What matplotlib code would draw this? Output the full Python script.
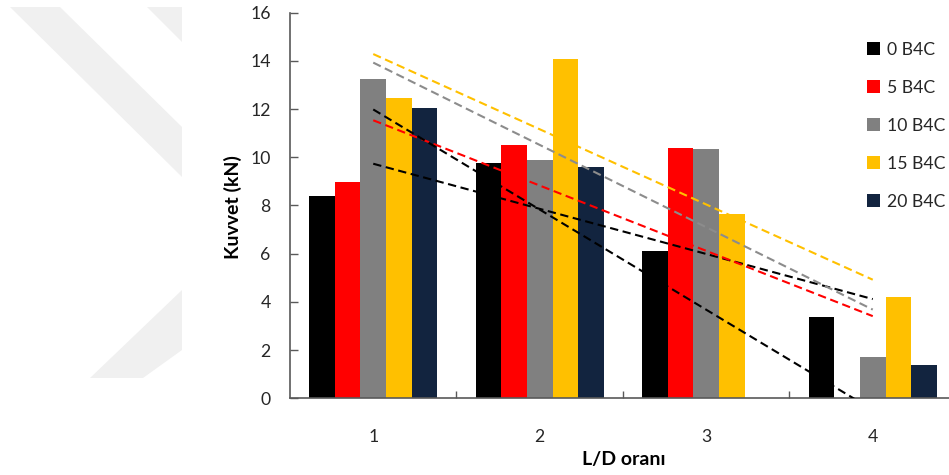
import numpy as np
import matplotlib
matplotlib.use("Agg")
import matplotlib.pyplot as plt
from matplotlib.patches import Patch, Polygon

plt.rcParams['font.family'] = ['Lato', 'DejaVu Sans']

# L/D ratios and force (kN) for each B4C content
ld_ratios = [1, 2, 3, 4]
series_labels = ['0 B4C', '5 B4C', '10 B4C', '15 B4C', '20 B4C']
b4c_0 = [8.41, 9.78, 6.12, 3.39]
b4c_5 = [8.99, 10.51, 10.39, 0.0]
b4c_10 = [13.26, 9.90, 10.33, 1.73]
b4c_15 = [12.47, 14.09, 7.63, 4.22]
b4c_20 = [12.03, 9.60, 0.0, 1.38]
y_ticks = [0, 2, 4, 6, 8, 10, 12, 14, 16]

series = [b4c_0, b4c_5, b4c_10, b4c_15, b4c_20]
bar_colors = ['#000000', '#FF0000', '#808080', '#FFC000', '#12243F']
trend_colors = ['#000000', '#FF0000', '#8C8C8C', '#FFC000', '#000000']
text_color = '#262626'
spine_color = '#595959'

W, H = 949, 475
fig = plt.figure(figsize=(W / 100, H / 100), dpi=100)

# faint diagonal watermark bands on the left
def px(points):
    return [(x / W, 1 - y / H) for x, y in points]

wm = '#F0F0F0'
for pts in [
    [(10, 7), (60, 7), (182, 127), (182, 177)],
    [(147, 7), (182, 7), (182, 42)],
    [(90, 378), (182, 290), (182, 350), (143, 378)],
]:
    fig.patches.append(Polygon(px(pts), closed=True, transform=fig.transFigure,
                               facecolor=wm, edgecolor='none', zorder=0))

ax = fig.add_axes([290 / W, (H - 398.3) / H, 666 / W, 385.6 / H])
ax.set_facecolor('none')

x = np.array(ld_ratios, dtype=float)
n = len(series)
bw = 0.154
for i, (vals, col, lab) in enumerate(zip(series, bar_colors, series_labels)):
    ax.bar(x + (i - (n - 1) / 2) * bw, vals, width=bw, color=col,
           edgecolor='none', label=lab, zorder=2)

# linear trend line for every series
for vals, col in zip(series, trend_colors):
    k, b = np.polyfit(x, vals, 1)
    xs = np.array([x[0], x[-1]])
    ax.plot(xs, k * xs + b, color=col, lw=1.5, dashes=(4, 2.2), zorder=3)

ax.set_xlim(0.5, 4.5)
ax.set_ylim(0, 16)
ax.set_yticks(y_ticks)
ax.set_xticks(ld_ratios)
ax.set_xticks([1.5, 2.5, 3.5], minor=True)
ax.tick_params(axis='x', which='major', length=0, pad=22, labelsize=12.7,
               labelcolor=text_color)
ax.tick_params(axis='x', which='minor', direction='in', length=5,
               width=1, color=spine_color)
ax.tick_params(axis='y', direction='in', length=6, width=1, color=spine_color,
               pad=14, labelsize=12.7, labelcolor=text_color)

for s in ['top', 'right']:
    ax.spines[s].set_visible(False)
for s in ['left', 'bottom']:
    ax.spines[s].set_color(spine_color)
    ax.spines[s].set_linewidth(1.2)

fig.text(233 / W, 1 - 207 / H, 'Kuvvet (kN)', rotation=90, ha='center',
         va='center', fontsize=14, fontweight='bold', color='#000000')
fig.text(624 / W, 1 - 460 / H, 'L/D oranı', ha='center', va='center',
         fontsize=14, fontweight='bold', color='#000000')

handles = [Patch(facecolor=c, edgecolor='none') for c in bar_colors]
fig.legend(handles, series_labels, loc='upper left',
           bbox_to_anchor=(858 / W, 1 - 33 / H), frameon=False,
           fontsize=12.7, handlelength=0.75, handleheight=0.75,
           handletextpad=0.4, labelspacing=1.25, borderpad=0,
           labelcolor=text_color)

fig.savefig('out.png', dpi=100)
